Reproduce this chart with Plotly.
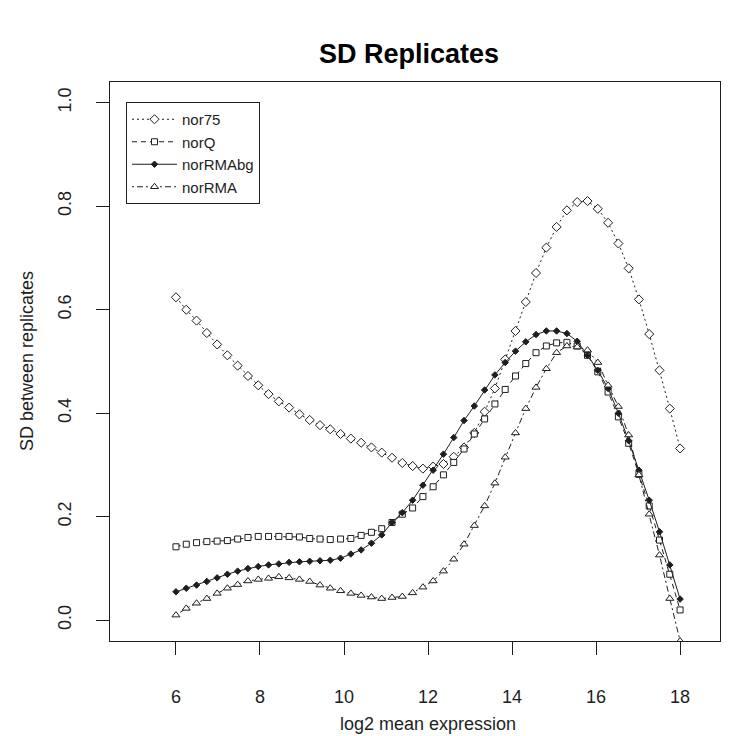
import plotly.graph_objects as go

# ---- data ----
log2_expr = [6.000, 6.245, 6.490, 6.735, 6.980, 7.224, 7.469, 7.714, 7.959, 8.204,
             8.449, 8.694, 8.939, 9.184, 9.429, 9.673, 9.918, 10.163, 10.408, 10.653,
             10.898, 11.143, 11.388, 11.633, 11.878, 12.122, 12.367, 12.612, 12.857, 13.102,
             13.347, 13.592, 13.837, 14.082, 14.327, 14.571, 14.816, 15.061, 15.306, 15.551,
             15.796, 16.041, 16.286, 16.531, 16.776, 17.020, 17.265, 17.510, 17.755, 18.000]

sd_nor75 = [0.624, 0.600, 0.579, 0.555, 0.533, 0.512, 0.492, 0.472, 0.454, 0.437,
            0.423, 0.411, 0.398, 0.387, 0.377, 0.369, 0.360, 0.351, 0.343, 0.334,
            0.324, 0.314, 0.304, 0.298, 0.293, 0.297, 0.302, 0.316, 0.334, 0.362,
            0.403, 0.448, 0.504, 0.559, 0.615, 0.671, 0.720, 0.760, 0.792, 0.808,
            0.810, 0.795, 0.768, 0.728, 0.680, 0.620, 0.553, 0.483, 0.409, 0.332]

sd_norQ = [0.142, 0.147, 0.150, 0.152, 0.153, 0.154, 0.157, 0.160, 0.162, 0.162,
           0.162, 0.162, 0.161, 0.158, 0.157, 0.156, 0.157, 0.158, 0.164, 0.170,
           0.177, 0.189, 0.205, 0.217, 0.239, 0.258, 0.281, 0.305, 0.331, 0.360,
           0.389, 0.418, 0.446, 0.472, 0.496, 0.517, 0.530, 0.536, 0.537, 0.530,
           0.512, 0.480, 0.441, 0.393, 0.342, 0.282, 0.221, 0.155, 0.089, 0.020]

sd_norRMAbg = [0.055, 0.062, 0.068, 0.075, 0.082, 0.089, 0.095, 0.100, 0.104, 0.107,
               0.109, 0.112, 0.113, 0.114, 0.115, 0.116, 0.120, 0.128, 0.136, 0.149,
               0.165, 0.189, 0.208, 0.232, 0.261, 0.290, 0.321, 0.353, 0.386, 0.414,
               0.445, 0.474, 0.498, 0.520, 0.538, 0.552, 0.559, 0.559, 0.554, 0.539,
               0.512, 0.483, 0.448, 0.400, 0.347, 0.290, 0.232, 0.171, 0.107, 0.041]

sd_norRMA = [0.010, 0.023, 0.033, 0.042, 0.052, 0.062, 0.069, 0.076, 0.079, 0.081,
             0.084, 0.082, 0.079, 0.075, 0.068, 0.062, 0.057, 0.052, 0.048, 0.045,
             0.042, 0.044, 0.046, 0.053, 0.064, 0.076, 0.095, 0.118, 0.147, 0.183,
             0.221, 0.265, 0.315, 0.362, 0.409, 0.450, 0.486, 0.517, 0.530, 0.528,
             0.522, 0.498, 0.454, 0.413, 0.358, 0.281, 0.205, 0.126, 0.042, -0.040]

series_names = ["nor75", "norQ", "norRMAbg", "norRMA"]
x_tick_vals = [6, 8, 10, 12, 14, 16, 18]
y_tick_vals = [0.0, 0.2, 0.4, 0.6, 0.8, 1.0]
y_tick_text = ["0.0", "0.2", "0.4", "0.6", "0.8", "1.0"]

# ---- styling ----
INK = "#1e1e1e"
FONT = "Liberation Sans, Arial, sans-serif"
W, H = 729, 736
ML, MR, MT, MB = 102, 17, 74, 103

styles = {
    "nor75":    dict(symbol="diamond", size=7, fill="white", dash="2px,3px"),
    "norQ":     dict(symbol="square", size=6, fill="white", dash="5px,4px"),
    "norRMAbg": dict(symbol="diamond", size=5, fill=INK, dash="solid"),
    "norRMA":   dict(symbol="triangle-up", size=7, fill="white", dash="2px,3px,6px,3px"),
}
values = {"nor75": sd_nor75, "norQ": sd_norQ, "norRMAbg": sd_norRMAbg, "norRMA": sd_norRMA}

fig = go.Figure()
for name in series_names:
    st = styles[name]
    fig.add_trace(go.Scatter(
        x=log2_expr, y=values[name], name=name, mode="lines+markers",
        line=dict(color=INK, width=1, dash=st["dash"]),
        marker=dict(symbol=st["symbol"], size=st["size"], color=st["fill"],
                    line=dict(color=INK, width=1)),
        cliponaxis=True,
    ))

def px_x(px):
    return (px - ML) / (W - ML - MR)

def px_y(py):
    return (H - MB - py) / (H - MT - MB)

fig.update_layout(
    width=W, height=H,
    margin=dict(l=ML, r=MR, t=MT, b=MB),
    paper_bgcolor="white", plot_bgcolor="white",
    font=dict(family=FONT, color=INK, size=18),
    showlegend=True,
    legend=dict(x=px_x(118), y=px_y(94), xanchor="left", yanchor="top",
                bordercolor=INK, borderwidth=1, bgcolor="white",
                font=dict(size=15, family=FONT, color=INK),
                itemwidth=45, tracegroupgap=0),
    xaxis=dict(range=[4.43, 18.95], tickvals=x_tick_vals, ticks="outside",
               ticklen=13, tickwidth=1, tickcolor=INK, showline=True, mirror=True,
               linecolor=INK, linewidth=1, showgrid=False, zeroline=False,
               tickfont=dict(size=18, family=FONT, color=INK), ticklabelstandoff=26),
    yaxis=dict(range=[-0.04, 1.04], tickvals=y_tick_vals, ticktext=y_tick_text,
               ticks="outside", ticklen=13, tickwidth=1, tickcolor=INK,
               showline=True, mirror=True, linecolor=INK, linewidth=1,
               showgrid=False, zeroline=False, tickangle=-90,
               tickfont=dict(size=18, family=FONT, color=INK), ticklabelstandoff=18),
    annotations=[
        dict(text="<b>SD Replicates</b>", xref="paper", yref="paper",
             x=px_x(401), y=px_y(46), showarrow=False, xanchor="center", yanchor="middle",
             font=dict(size=27, family=FONT, color="black")),
        dict(text="log2 mean expression", xref="paper", yref="paper",
             x=px_x(420), y=px_y(716), showarrow=False, xanchor="center", yanchor="middle",
             font=dict(size=18, family=FONT, color=INK)),
        dict(text="SD between replicates", xref="paper", yref="paper", textangle=-90,
             x=px_x(19), y=px_y(353), showarrow=False, xanchor="center", yanchor="middle",
             font=dict(size=18, family=FONT, color=INK)),
    ],
)

fig.write_html("out.html")
